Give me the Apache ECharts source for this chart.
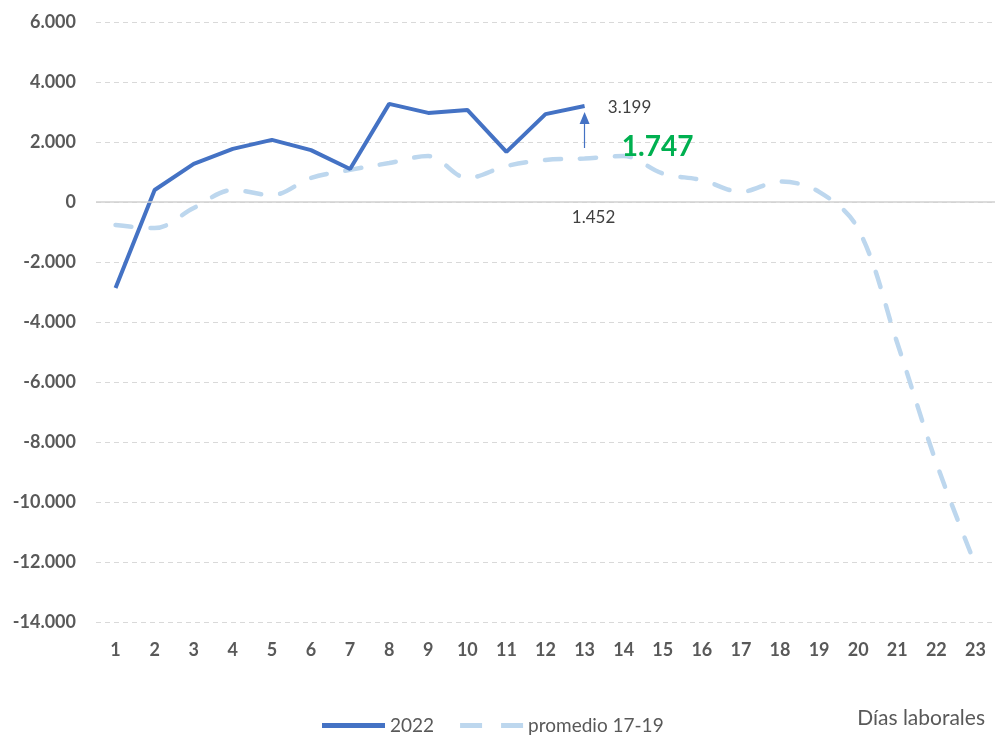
<!DOCTYPE html>
<html>
<head>
<meta charset="utf-8">
<script src="https://cdn.jsdelivr.net/npm/echarts@6/dist/echarts.min.js"></script>
<style>
  html, body { margin: 0; padding: 0; background: #fff; }
  #chart { width: 995px; height: 737px; }
</style>
</head>
<body>
<div id="chart"></div>
<script>
// datos
var dias = ['1','2','3','4','5','6','7','8','9','10','11','12','13','14','15','16','17','18','19','20','21','22','23']
var serie2022 = [-2870, 400, 1270, 1770, 2070, 1730, 1100, 3270, 2970, 3070, 1670, 2930, 3199]
var promedio = [-770, -870, -200, 400, 230, 800, 1070, 1300, 1530, 800, 1200, 1400, 1452,
  1530, 950, 730, 340, 680, 340, -900, -4700, -8700, -12100]
var yTicks = [-14000, 6000, 2000] // min, max, intervalo
var diferencia = 1747
var flecha = [1800, 2800]

var fuente = 'Lato'
var gris = '#595959'

function miles(v) {
  var s = Math.abs(v).toString().replace(/\B(?=(\d{3})+(?!\d))/g, '.')
  return (v < 0 ? '-' : '') + s
}

// punto invisible que solo lleva la etiqueta
function etiqueta(coord, texto, offset, extra) {
  var label = Object.assign({
    show: true, formatter: texto, offset: offset,
    color: '#404040', fontFamily: fuente, fontSize: 17
  }, extra || {})
  return { coord: coord, symbol: 'rect', symbolSize: 1, itemStyle: { color: 'rgba(0,0,0,0)' }, label: label }
}

var chart = echarts.init(document.getElementById('chart'))

var option = {
  backgroundColor: '#fff',
  animation: false,
  grid: { left: 96, top: 22, width: 904, height: 600 },
  xAxis: {
    type: 'category',
    data: dias,
    boundaryGap: true,
    axisLine: { show: false },
    axisTick: { show: false },
    axisLabel: { margin: 19, color: gris, fontFamily: fuente, fontWeight: 'bold', fontSize: 18 }
  },
  yAxis: {
    type: 'value',
    min: yTicks[0],
    max: yTicks[1],
    interval: yTicks[2],
    axisLine: { show: false },
    axisTick: { show: false },
    axisLabel: {
      margin: 20, color: gris, fontFamily: fuente, fontWeight: 'bold', fontSize: 18,
      formatter: miles
    },
    splitLine: { lineStyle: { color: '#d9d9d9', type: [5, 4], width: 1 } }
  },
  legend: {
    bottom: -3,
    left: 317,
    itemWidth: 63,
    itemHeight: 5,
    itemGap: 26,
    textStyle: { color: gris, fontFamily: fuente, fontSize: 19 },
    data: [
      { name: '2022', icon: 'path://M0,0h63v5h-63z' },
      { name: 'promedio 17-19', icon: 'path://M0,0h22v5h-22z M41,0h22v5h-22z' }
    ]
  },
  graphic: [{
    type: 'text',
    right: 10,
    bottom: 8,
    style: { text: 'Días laborales', fill: gris, font: '21px Lato' }
  }],
  series: [
    {
      name: 'promedio 17-19',
      type: 'line',
      data: promedio,
      smooth: 0.35,
      showSymbol: false,
      symbol: 'none',
      z: 2,
      lineStyle: { color: '#bdd7ee', width: 4.5, type: [16, 19], cap: 'round' },
      itemStyle: { color: '#bdd7ee' },
      markLine: {
        silent: true,
        symbol: 'none',
        label: { show: false },
        lineStyle: { color: '#d0d0d0', type: 'solid', width: 1.5 },
        data: [{ yAxis: 0 }]
      },
      markPoint: {
        silent: true,
        data: [
          etiqueta(['13', promedio[12]], miles(promedio[12]), [9, 59]),
          etiqueta(['14', 1850], miles(diferencia), [34, 0],
            { color: '#00b050', fontWeight: 'bold', fontSize: 28 })
        ]
      }
    },
    {
      name: '2022',
      type: 'line',
      data: serie2022,
      showSymbol: false,
      symbol: 'none',
      z: 3,
      lineStyle: { color: '#4472c4', width: 4 },
      itemStyle: { color: '#4472c4' },
      markPoint: {
        silent: true,
        data: [etiqueta(['13', serie2022[12]], miles(serie2022[12]), [45, 1])]
      },
      markLine: {
        silent: true,
        symbol: ['none', 'triangle'],
        symbolSize: [10, 12],
        label: { show: false },
        lineStyle: { color: '#4472c4', type: 'solid', width: 1.2 },
        data: [[
          { coord: ['13', flecha[0]] },
          { coord: ['13', flecha[1]] }
        ]]
      }
    }
  ]
}

chart.setOption(option)
</script>
</body>
</html>
